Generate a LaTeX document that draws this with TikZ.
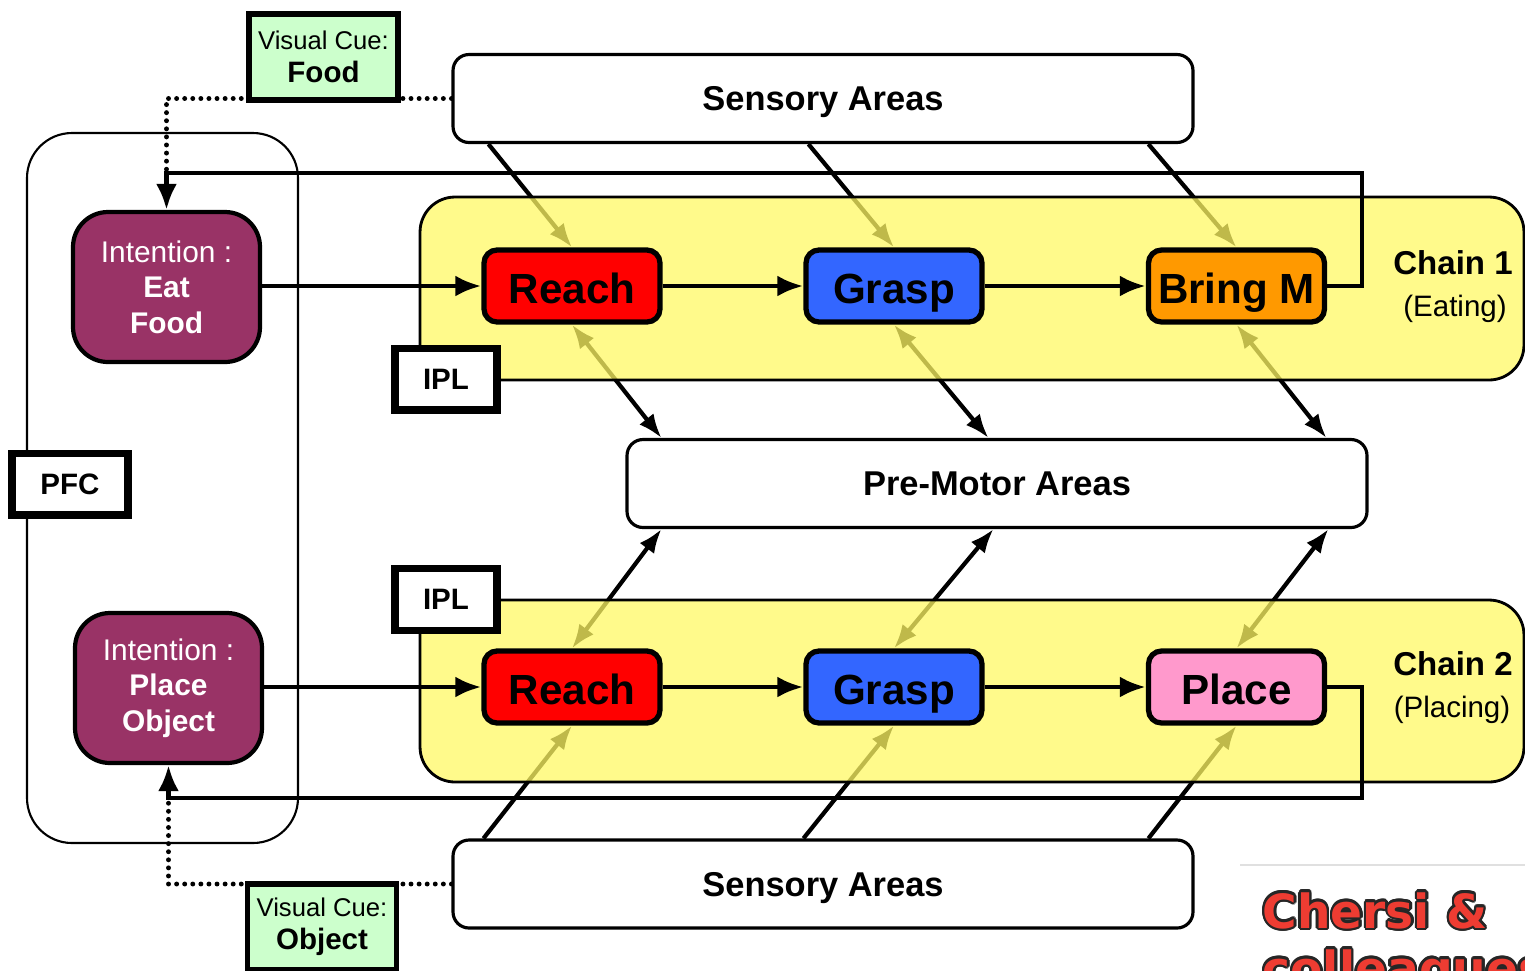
\documentclass[tikz,border=0pt]{standalone}
\usepackage{fontspec}
\setmainfont{Liberation Sans}
\newfontfamily\creditfont{DejaVu Sans}
\usepackage[copies]{contour}
\contourlength{0.7pt}
\usetikzlibrary{arrows.meta}

\definecolor{chainyellow}{RGB}{255,248,100}
\definecolor{reachred}{RGB}{255,0,0}
\definecolor{graspblue}{RGB}{51,102,255}
\definecolor{bringorange}{RGB}{255,153,0}
\definecolor{placepink}{RGB}{255,153,204}
\definecolor{intentpurple}{RGB}{153,51,102}
\definecolor{cuegreen}{RGB}{204,255,204}
\definecolor{creditred}{RGB}{238,60,50}

\pgfdeclarelayer{under}
\pgfdeclarelayer{shade}
\pgfsetlayers{under,shade,main}

\begin{document}
\begin{tikzpicture}[x=0.1cm,y=-0.1cm,
	areabox/.style={draw,fill=white,rounded corners=1.6mm,line width=0.9pt,minimum width=74mm,minimum height=8.8mm,text height=9pt,text depth=2pt,font=\fontsize{9.8}{11}\selectfont\bfseries},
	actbox/.style={draw,rounded corners=1.3mm,line width=1.5pt,minimum width=17.6mm,minimum height=7.2mm,inner sep=0pt,text height=10pt,text depth=0.2pt,font=\fontsize{12}{14}\selectfont\bfseries},
	intentbox/.style={draw,fill=intentpurple,text=white,rounded corners=3.5mm,line width=1.2pt,minimum width=18.7mm,minimum height=15mm,align=center,font=\fontsize{8.5}{10.1}\selectfont},
	cuebox/.style={draw,fill=cuegreen,line width=1.7pt,minimum width=14.9mm,minimum height=8.6mm,inner sep=0pt,align=center,font=\fontsize{7.3}{9.4}\selectfont},
	labelbox/.style={draw,fill=white,line width=2pt,minimum height=6.2mm,font=\fontsize{8.4}{10}\selectfont\bfseries},
	chainbox/.style={draw,line width=0.8pt,fill=chainyellow,fill opacity=0.75,rounded corners=3.5mm,minimum width=110.4mm},
	flow/.style={-{Latex[length=2.6mm,width=2.1mm]},line width=1.4pt},
	sensarrow/.style={-{Latex[length=2.4mm,width=1.8mm]},line width=1.2pt},
	twoway/.style={{Latex[length=2.4mm,width=1.8mm]}-{Latex[length=2.4mm,width=1.8mm]},line width=1.2pt},
	cueline/.style={line width=1.4pt,line cap=round,dash pattern=on 0pt off 2.3pt}]
	\useasboundingbox (0,0) rectangle (152.5,97);

	% areas
	\node[areabox] (sensTop) at (82.3,9.85) {Sensory Areas};
	\node[areabox] (sensBot) at (82.3,88.4) {Sensory Areas};
	\node[areabox] (pm) at (99.7,48.35) {Pre-Motor Areas};

	% PFC
	\draw[line width=0.6pt,rounded corners=4.5mm] (2.7,13.3) rectangle (29.8,84.3);
	\node[labelbox,minimum width=11.6mm] (pfc) at (7,48.4) {PFC};
	\node[intentbox] (eat) at (16.65,28.7) {Intention :\\\textbf{Eat}\\\textbf{Food}};
	\node[intentbox] (placeobj) at (16.85,68.8) {Intention :\\\textbf{Place}\\\textbf{Object}};

	% chains
	\begin{pgfonlayer}{shade}
	\node[chainbox,minimum height=18.3mm] (chainA) at (97.2,28.85) {};
	\node[chainbox,minimum height=18.2mm] (chainB) at (97.2,69.1) {};
	\end{pgfonlayer}
	\node[actbox,fill=reachred] (reachA) at (57.2,28.6) {Reach};
	\node[actbox,fill=graspblue] (graspA) at (89.4,28.6) {Grasp};
	\node[actbox,fill=bringorange] (bring) at (123.65,28.6) {Bring M};
	\node[actbox,fill=reachred] (reachB) at (57.2,68.7) {Reach};
	\node[actbox,fill=graspblue] (graspB) at (89.4,68.7) {Grasp};
	\node[actbox,fill=placepink] (place) at (123.65,68.7) {Place};
	\node[font=\fontsize{9.4}{11}\selectfont\bfseries] (chainAtitle) at (145.3,26.3) {Chain 1};
	\node[font=\fontsize{8.4}{10}\selectfont] (chainAsub) at (145.5,30.9) {(Eating)};
	\node[font=\fontsize{9.4}{11}\selectfont\bfseries] (chainBtitle) at (145.3,66.4) {Chain 2};
	\node[font=\fontsize{8.4}{10}\selectfont] (chainBsub) at (145.2,71) {(Placing)};
	\node[labelbox,minimum width=10.2mm] (iplA) at (44.6,37.9) {IPL};
	\node[labelbox,minimum width=10.2mm] (iplB) at (44.6,59.9) {IPL};

	% cues
	\coordinate (loopA) at (136.2,17.3);
	\coordinate (loopB) at (136.2,79.8);
	\draw[cueline] (sensTop.west) -| (eat.north |- loopA);
	\draw[cueline] (sensBot.west) -| (placeobj.south |- loopB);
	\node[cuebox] (cueFood) at (32.35,5.7) {Visual Cue:\\{\fontsize{8.4}{9.4}\selectfont\bfseries Food}};
	\node[cuebox] (cueObject) at (32.2,92.7) {Visual Cue:\\{\fontsize{8.4}{9.4}\selectfont\bfseries Object}};

	% sensory and pre-motor links, seen through the chains
	\begin{pgfonlayer}{under}
	\draw[sensarrow] ([xshift=3.7mm]sensTop.south west) -- (reachA.north);
	\draw[sensarrow] ([xshift=35.7mm]sensTop.south west) -- (graspA.north);
	\draw[sensarrow] ([xshift=69.7mm]sensTop.south west) -- (bring.north);
	\draw[twoway] (reachA.south) -- ([xshift=3.6mm]pm.north west);
	\draw[twoway] (graspA.south) -- ([xshift=36.3mm]pm.north west);
	\draw[twoway] (bring.south) -- ([xshift=70.1mm]pm.north west);
	\draw[twoway] (reachB.north) -- ([xshift=3.6mm]pm.south west);
	\draw[twoway] (graspB.north) -- ([xshift=36.8mm]pm.south west);
	\draw[twoway] (place.north) -- ([xshift=70.3mm]pm.south west);
	\draw[sensarrow] ([xshift=3.2mm]sensBot.north west) -- (reachB.south);
	\draw[sensarrow] ([xshift=35.2mm]sensBot.north west) -- (graspB.south);
	\draw[sensarrow] ([xshift=69.7mm]sensBot.north west) -- (place.south);
	\end{pgfonlayer}

	% chain flow
	\draw[flow] (eat.east |- reachA.west) -- (reachA.west);
	\draw[flow] (reachA.east) -- (graspA.west);
	\draw[flow] (graspA.east) -- (bring.west);
	\draw[flow] (bring.east) -| (loopA) -| (eat.north);
	\draw[flow] (placeobj.east |- reachB.west) -- (reachB.west);
	\draw[flow] (reachB.east) -- (graspB.west);
	\draw[flow] (graspB.east) -- (place.west);
	\draw[flow] (place.east) -| (loopB) -| (placeobj.south);

	% credit
	\draw[black!12,line width=0.6pt] (124,86.5) -- (152.5,86.5);
	\node[anchor=base west,inner sep=0pt,font=\creditfont\fontsize{13.4}{16}\selectfont\bfseries] (creditA) at (126.2,92.8) {\contour{black!85}{\textcolor{creditred}{Chersi \&}}};
	\node[anchor=base west,inner sep=0pt,font=\creditfont\fontsize{13.4}{16}\selectfont\bfseries] (creditB) at (126.2,98.5) {\contour{black!85}{\textcolor{creditred}{colleagues}}};
\end{tikzpicture}
\end{document}
